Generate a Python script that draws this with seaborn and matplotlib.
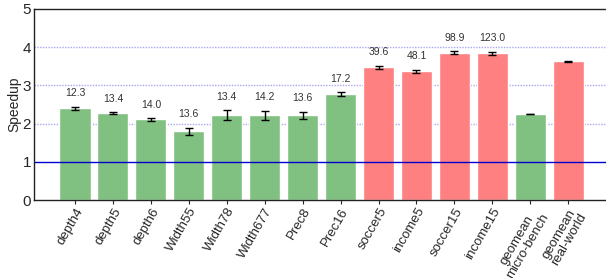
import matplotlib
matplotlib.use("Agg")
import matplotlib.pyplot as plt
import seaborn as sns
import pandas as pd

categories = ["depth4", "depth5", "depth6", "Width55", "Width78", "Width677",
              "Prec8", "Prec16", "soccer5", "income5", "soccer15", "income15",
              "geomean\nmicro-bench", "geomean\nreal-world"]
speedup = [2.40, 2.27, 2.11, 1.80, 2.22, 2.22, 2.22, 2.77, 3.47, 3.37, 3.86, 3.84, 2.245, 3.63]
errors = [0.04, 0.03, 0.03, 0.09, 0.13, 0.12, 0.09, 0.05, 0.05, 0.045, 0.04, 0.04, 0.005, 0.01]
groups = ["micro"] * 8 + ["real"] * 4 + ["micro", "real"]
annotations = ["12.3", "13.4", "14.0", "13.6", "13.4", "14.2", "13.6", "17.2",
               "39.6", "48.1", "98.9", "123.0", "", ""]
palette = {"micro": "#80c080", "real": "#ff8080"}

df = pd.DataFrame({"cat": categories, "speedup": speedup, "group": groups})

sns.set_style("ticks")
plt.rcParams["font.family"] = ["Liberation Sans", "DejaVu Sans"]

fig = plt.figure(figsize=(6.06, 2.78), dpi=100)
ax = fig.add_axes([34 / 606, 1 - 200 / 278, 1 - 34 / 606, 191 / 278])

sns.barplot(data=df, x="cat", y="speedup", hue="group", palette=palette,
            dodge=False, width=0.82, legend=False, saturation=1, ax=ax)
ax.errorbar(categories, speedup, yerr=errors, fmt="none", ecolor="black",
            elinewidth=1.0, capsize=2.8, capthick=1.0, zorder=5)

for c, v, e, a in zip(categories, speedup, errors, annotations):
    if a:
        ax.annotate(a, (c, v + e), xytext=(0, 6), textcoords="offset points",
                    ha="center", va="bottom", fontsize=7.5, color="#333333")

for g in [2, 3, 4]:
    ax.axhline(g, color="#a8a8f0", linestyle=(0, (1, 1)), linewidth=1.0, zorder=0)
ax.axhline(1, color="#0000cc", linewidth=1.0, zorder=1)

ax.set_ylim(0, 5)
ax.set_xlim(-1.08, 13.995)
ax.set_yticks([0, 1, 2, 3, 4, 5])
ax.set_ylabel("Speedup", fontsize=10, labelpad=1)
ax.set_xlabel("")
ax.tick_params(axis="y", length=0, labelsize=11, pad=2)
ax.tick_params(axis="x", length=3, labelsize=9.5, pad=1)
plt.setp(ax.get_xticklabels(), rotation=60, ha="right", rotation_mode="anchor",
         multialignment="center", linespacing=0.95)
for s in ["left", "bottom", "top"]:
    ax.spines[s].set_color("#222222")
    ax.spines[s].set_linewidth(1.0)
ax.spines["right"].set_visible(False)

fig.savefig("out.png", dpi=100)
